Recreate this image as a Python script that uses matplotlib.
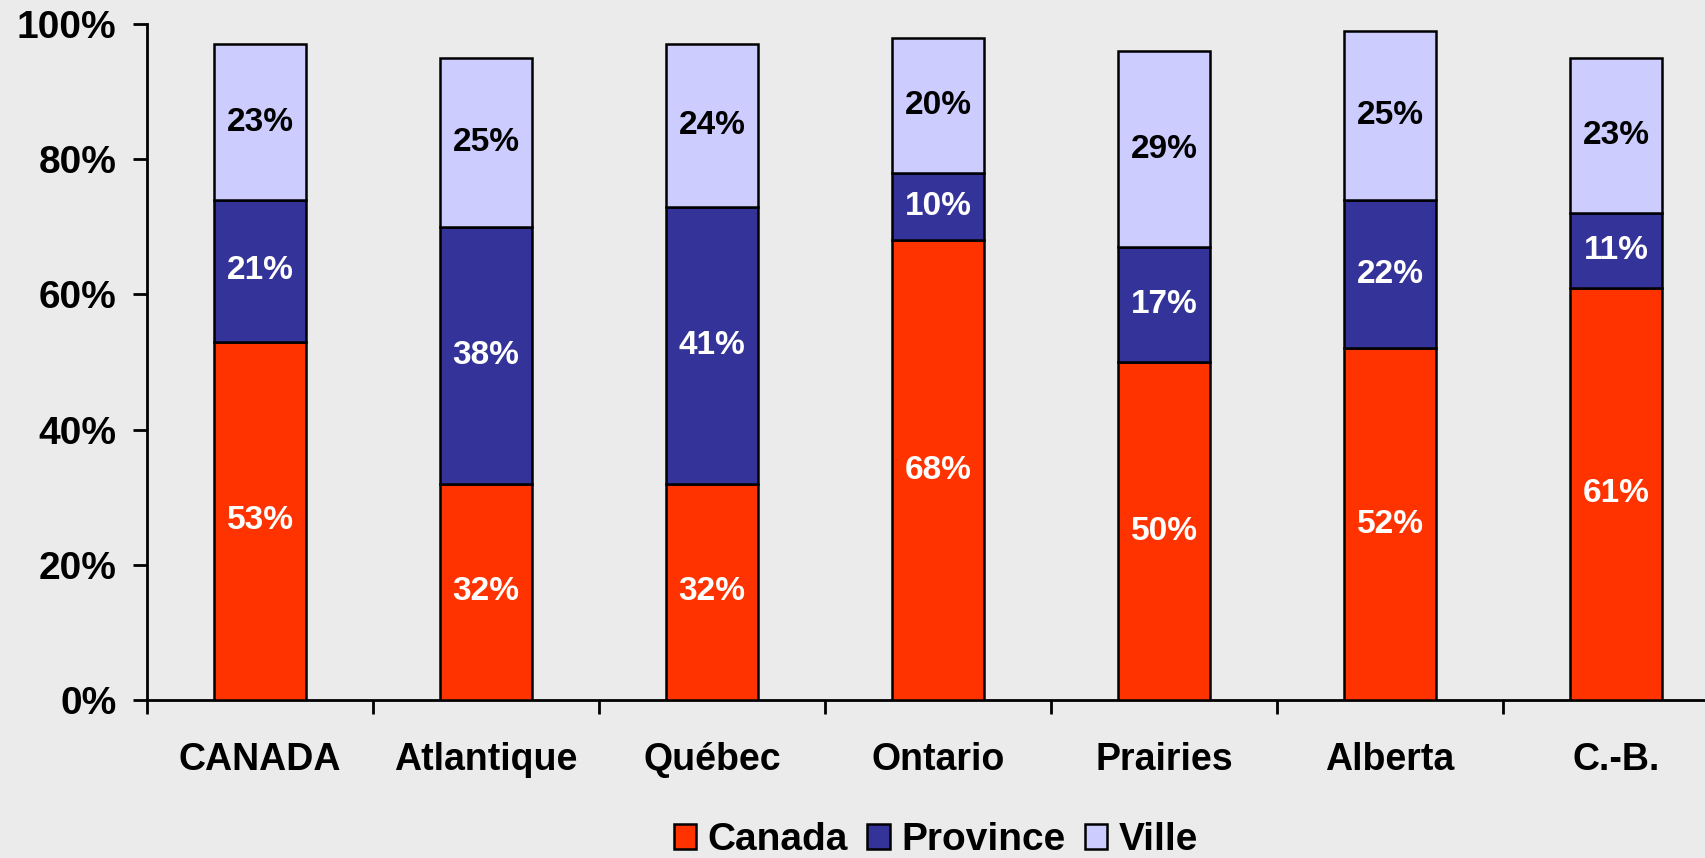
import matplotlib
matplotlib.use('Agg')
import matplotlib.pyplot as plt
import numpy as np

plt.rcParams['font.family'] = ['Liberation Sans', 'DejaVu Sans']
plt.rcParams['font.weight'] = 'bold'

regions = ['CANADA', 'Atlantique', 'Québec', 'Ontario', 'Prairies', 'Alberta', 'C.-B.']
canada = [53, 32, 32, 68, 50, 52, 61]
province = [21, 38, 41, 10, 17, 22, 11]
ville = [23, 25, 24, 20, 29, 25, 23]

series = [
    ('Canada', canada, '#FF3300', 'white'),
    ('Province', province, '#333399', 'white'),
    ('Ville', ville, '#CCCCFF', 'black'),
]

fig = plt.figure(figsize=(17.05, 8.58), dpi=100, facecolor='#ebebeb')
# axes runs a bit past the right edge, as in the original slide
ax = fig.add_axes([147 / 1705, 158 / 858, 1582 / 1705, 676 / 858])
ax.set_facecolor('none')

x = np.arange(len(regions))
bottom = np.zeros(len(regions))
for name, vals, color, txt in series:
    vals = np.array(vals, dtype=float)
    ax.bar(x, vals, 0.41, bottom=bottom, color=color, edgecolor='black',
           linewidth=1.8, label=name, zorder=3)
    for xi, b, v in zip(x, bottom, vals):
        ax.text(xi, b + v / 2, f'{v:.0f}%', ha='center', va='center',
                color=txt, fontsize=24, fontweight='bold', zorder=4)
    bottom += vals

ax.set_xlim(-0.5, len(regions) - 0.5)
ax.set_ylim(0, 100)
ax.set_yticks(np.arange(0, 101, 20))
ax.set_yticklabels([f'{v}%' for v in range(0, 101, 20)], fontsize=28, fontweight='bold')
ax.set_xticks(x)
ax.set_xticklabels(regions, fontsize=27, fontweight='bold')
ax.set_xticks(np.arange(len(regions) + 1) - 0.5, minor=True)
ax.tick_params(axis='x', which='major', length=0, pad=30)
ax.tick_params(axis='x', which='minor', length=10, width=2, direction='out')
ax.tick_params(axis='y', length=10, width=2, direction='out', pad=12)

for side in ['top', 'right']:
    ax.spines[side].set_visible(False)
for side in ['left', 'bottom']:
    ax.spines[side].set_linewidth(2)

fig.legend(loc='center', bbox_to_anchor=(936 / 1705, 1 - 840 / 858), ncol=3,
           frameon=False, handlelength=0.57, handleheight=0.62,
           handletextpad=0.3, columnspacing=0.5, borderaxespad=0,
           prop={'weight': 'bold', 'size': 28})

fig.savefig('out.png', dpi=100, facecolor=fig.get_facecolor())
